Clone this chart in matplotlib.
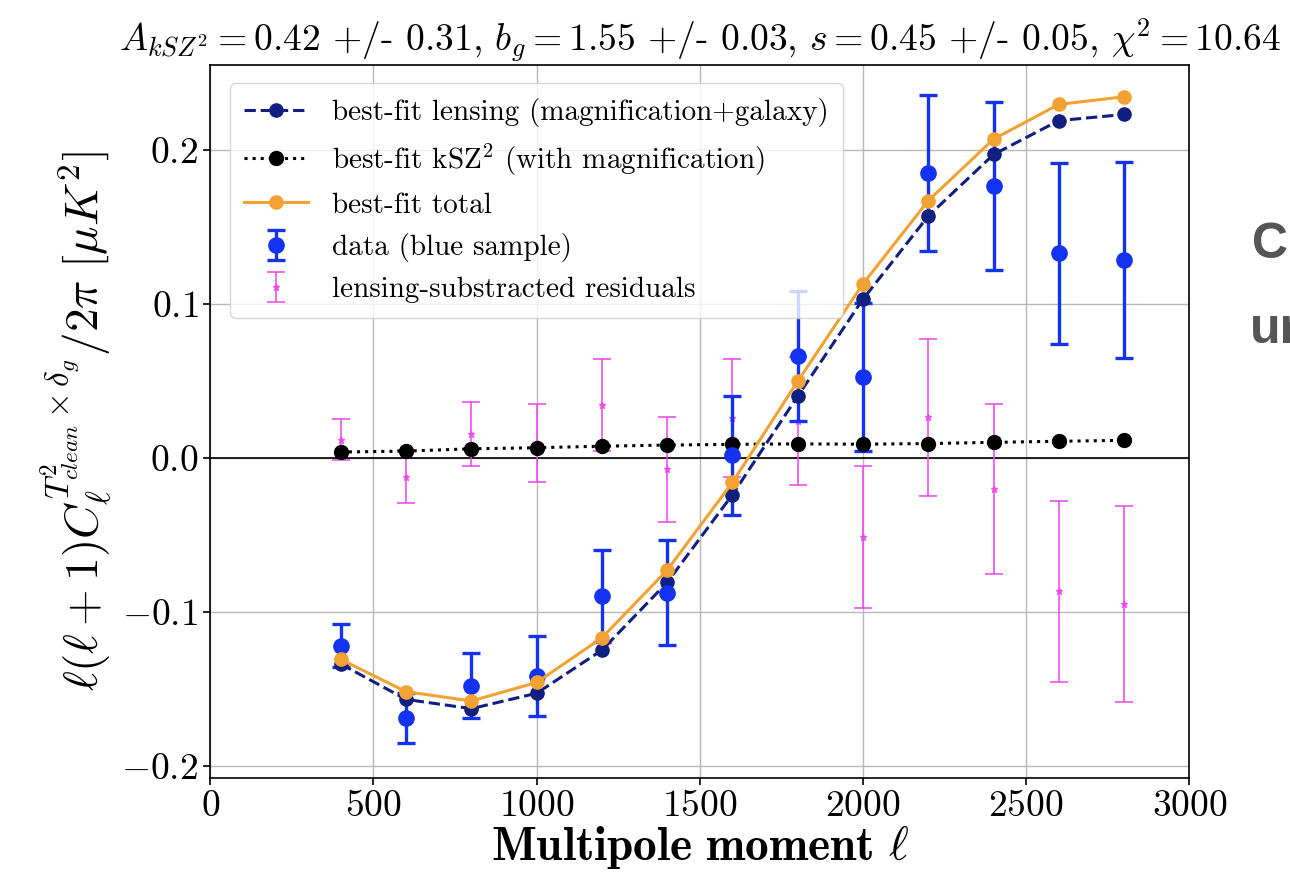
import numpy as np
import matplotlib
matplotlib.use("Agg")
from matplotlib import pyplot as plt

plt.rcParams['font.family'] = 'serif'
plt.rcParams['font.serif'] = ['cmr10', 'DejaVu Serif']
plt.rcParams['mathtext.fontset'] = 'cm'
plt.rcParams['axes.formatter.use_mathtext'] = True
plt.rcParams['axes.unicode_minus'] = True

# multipole bins
ell = [400, 600, 800, 1000, 1200, 1400, 1600, 1800, 2000, 2200, 2400, 2600, 2800]

# best-fit curves
lensing = [-0.134, -0.157, -0.163, -0.153, -0.125, -0.081, -0.024, 0.040, 0.103, 0.157, 0.197, 0.219, 0.223]
ksz = [0.0037, 0.0043, 0.0058, 0.0065, 0.0075, 0.0082, 0.0087, 0.0090, 0.0088, 0.0092, 0.0100, 0.0107, 0.0113]
total = [-0.131, -0.152, -0.158, -0.146, -0.117, -0.073, -0.016, 0.0497, 0.113, 0.167, 0.207, 0.2295, 0.2345]

# data (blue sample) and residuals
data = [-0.122, -0.169, -0.148, -0.142, -0.090, -0.0877, 0.0015, 0.0662, 0.0524, 0.185, 0.1767, 0.1328, 0.1285]
data_err = [0.014, 0.016, 0.021, 0.026, 0.030, 0.034, 0.0386, 0.0423, 0.048, 0.0505, 0.0546, 0.0587, 0.0635]
resid = [0.0118, -0.0123, 0.0155, 0.0097, 0.0344, -0.0075, 0.0258, 0.0240, -0.0515, 0.0264, -0.0203, -0.0868, -0.0948]
resid_err = [0.0135, 0.017, 0.021, 0.0255, 0.030, 0.034, 0.0385, 0.0415, 0.046, 0.051, 0.055, 0.059, 0.0636]

fig = plt.figure(figsize=(12.9, 8.81), dpi=100)
ax = fig.add_axes([0.163, 0.117, 0.759, 0.809])

ax.plot(ell, lensing, "--o", color="#111f80", lw=2.2, ms=9.5, label="best-fit lensing (magnification+galaxy)", zorder=3)
ax.plot(ell, ksz, ":o", color="black", lw=2.2, ms=10, label=r"best-fit kSZ$^2$ (with magnification)", zorder=3.02)
ax.plot(ell, total, "-o", color="#f2a233", lw=2.2, ms=9.5, label="best-fit total", zorder=3.1)
ax.errorbar(ell, data, yerr=data_err, fmt="o", color="#1433f0", ms=11, elinewidth=2.4,
            capsize=6.5, capthick=2.4, label="data (blue sample)", zorder=2.98)
ax.errorbar(ell, resid, yerr=resid_err, fmt="*", color="#ee44ee", ms=5, elinewidth=1.3,
            capsize=6.5, capthick=1.3, alpha=0.85, label="lensing-substracted residuals", zorder=2.5)

ax.axhline(0, color="black", lw=1.2, zorder=1.5)
ax.grid(True, color="#b8b8b8", lw=1.0)
ax.set_axisbelow(True)

ax.set_xlim(0, 3000)
ax.set_ylim(-0.208, 0.255)
ax.set_xticks([0, 500, 1000, 1500, 2000, 2500, 3000])
ax.set_yticks([-0.2, -0.1, 0.0, 0.1, 0.2])
ax.tick_params(labelsize=27, length=5, width=1.2)
for s in ax.spines.values():
    s.set_linewidth(1.2)

ax.set_xlabel(r"$\mathbf{Multipole\ moment}\ \ell$", fontsize=34, labelpad=0)
ax.set_ylabel(r"$\ell(\ell+1)C_\ell^{T^2_{clean}\times\delta_g}/2\pi\ [\mu K^2]$", fontsize=34, labelpad=4)
ax.set_title(r"$A_{kSZ^2}=0.42$ +/- 0.31, $b_g=1.55$ +/- 0.03, $s=0.45$ +/- 0.05, $\chi^2=10.64$",
             fontsize=27, pad=10)

ax.legend(loc="upper left", fontsize=21, framealpha=0.8, handlelength=2.2,
          borderpad=0.5, labelspacing=0.5, bbox_to_anchor=(0.005, 0.995))

# slide text cut off at the right edge
fig.text(1252 / 1290, 1 - 245 / 881, "C", fontsize=36, fontweight="bold", color="#555555",
         family="Liberation Sans", va="center", ha="left")
fig.text(1250 / 1290, 1 - 330 / 881, "ur", fontsize=36, fontweight="bold", color="#555555",
         family="Liberation Sans", va="center", ha="left")

fig.savefig("out.png", dpi=100)
